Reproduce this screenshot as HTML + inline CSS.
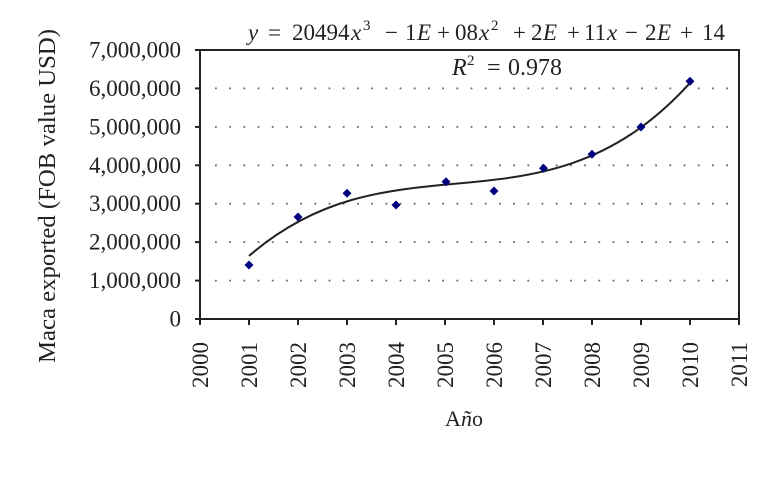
<!DOCTYPE html>
<html><head><meta charset="utf-8"><style>
html,body{margin:0;padding:0;background:#fff;}
svg{display:block;font-family:"Liberation Serif",serif;}
</style></head><body>
<svg width="783" height="489" viewBox="0 0 783 489" xmlns="http://www.w3.org/2000/svg">
<rect width="783" height="489" fill="#fff"/>
<!-- gridlines -->
<g stroke="#6a6a6a" stroke-width="1.8" stroke-dasharray="1.8 12.4" fill="none">
<line x1="215" y1="88.4" x2="737" y2="88.4"/>
<line x1="215" y1="126.9" x2="737" y2="126.9"/>
<line x1="215" y1="165.3" x2="737" y2="165.3"/>
<line x1="215" y1="203.7" x2="737" y2="203.7"/>
<line x1="215" y1="242.1" x2="737" y2="242.1"/>
<line x1="215" y1="280.6" x2="737" y2="280.6"/>
</g>
<!-- axes box -->
<rect x="200" y="50" width="539" height="269" fill="none" stroke="#222" stroke-width="2"/>
<!-- y ticks -->
<g stroke="#222" stroke-width="2">
<line x1="195" y1="50" x2="200" y2="50"/>
<line x1="195" y1="88.4" x2="200" y2="88.4"/>
<line x1="195" y1="126.9" x2="200" y2="126.9"/>
<line x1="195" y1="165.3" x2="200" y2="165.3"/>
<line x1="195" y1="203.7" x2="200" y2="203.7"/>
<line x1="195" y1="242.1" x2="200" y2="242.1"/>
<line x1="195" y1="280.6" x2="200" y2="280.6"/>
<line x1="195" y1="319" x2="200" y2="319"/>
</g>
<!-- x ticks -->
<g stroke="#222" stroke-width="2">
<line x1="200" y1="319" x2="200" y2="325"/>
<line x1="249" y1="319" x2="249" y2="325"/>
<line x1="298" y1="319" x2="298" y2="325"/>
<line x1="347" y1="319" x2="347" y2="325"/>
<line x1="396" y1="319" x2="396" y2="325"/>
<line x1="445" y1="319" x2="445" y2="325"/>
<line x1="494" y1="319" x2="494" y2="325"/>
<line x1="543" y1="319" x2="543" y2="325"/>
<line x1="592" y1="319" x2="592" y2="325"/>
<line x1="641" y1="319" x2="641" y2="325"/>
<line x1="690" y1="319" x2="690" y2="325"/>
<line x1="739" y1="319" x2="739" y2="325"/>
</g>
<!-- y tick labels -->
<g font-size="23" fill="#222" text-anchor="end">
<text x="181" y="57.5">7,000,000</text>
<text x="181" y="95.9">6,000,000</text>
<text x="181" y="134.4">5,000,000</text>
<text x="181" y="172.8">4,000,000</text>
<text x="181" y="211.2">3,000,000</text>
<text x="181" y="249.6">2,000,000</text>
<text x="181" y="288.1">1,000,000</text>
<text x="181" y="326.5">0</text>
</g>
<!-- x tick labels -->
<g font-size="23" fill="#222" text-anchor="end">
<text transform="translate(208,342) rotate(-90)">2000</text>
<text transform="translate(257,342) rotate(-90)">2001</text>
<text transform="translate(306,342) rotate(-90)">2002</text>
<text transform="translate(355,342) rotate(-90)">2003</text>
<text transform="translate(404,342) rotate(-90)">2004</text>
<text transform="translate(453,342) rotate(-90)">2005</text>
<text transform="translate(502,342) rotate(-90)">2006</text>
<text transform="translate(551,342) rotate(-90)">2007</text>
<text transform="translate(600,342) rotate(-90)">2008</text>
<text transform="translate(649,342) rotate(-90)">2009</text>
<text transform="translate(698,342) rotate(-90)">2010</text>
<text transform="translate(747,342) rotate(-90)">2011</text>
</g>
<!-- axis titles -->
<text transform="translate(55,196) rotate(-90)" font-size="24" fill="#222" text-anchor="middle" textLength="334" lengthAdjust="spacingAndGlyphs">Maca exported (FOB value USD)</text>
<text x="464" y="426" font-size="22" fill="#222" text-anchor="middle">A<tspan font-style="italic">ñ</tspan>o</text>
<!-- trendline -->
<path d="M249,255.96 C396,128.4 543,245.07 690,82.94" fill="none" stroke="#222" stroke-width="2"/>
<!-- markers -->
<g fill="#00007f">
<path d="M249,260.5 l4.5,4.5 l-4.5,4.5 l-4.5,-4.5z"/>
<path d="M298,212.5 l4.5,4.5 l-4.5,4.5 l-4.5,-4.5z"/>
<path d="M347,188.8 l4.5,4.5 l-4.5,4.5 l-4.5,-4.5z"/>
<path d="M396,200.5 l4.5,4.5 l-4.5,4.5 l-4.5,-4.5z"/>
<path d="M446,177.2 l4.5,4.5 l-4.5,4.5 l-4.5,-4.5z"/>
<path d="M494,186.5 l4.5,4.5 l-4.5,4.5 l-4.5,-4.5z"/>
<path d="M543.5,163.8 l4.5,4.5 l-4.5,4.5 l-4.5,-4.5z"/>
<path d="M592,149.8 l4.5,4.5 l-4.5,4.5 l-4.5,-4.5z"/>
<path d="M641,122.5 l4.5,4.5 l-4.5,4.5 l-4.5,-4.5z"/>
<path d="M690,76.8 l4.5,4.5 l-4.5,4.5 l-4.5,-4.5z"/>
</g>
<!-- equation -->
<text y="40" font-size="23" fill="#222"><tspan x="248" font-style="italic">y</tspan><tspan x="268">=</tspan><tspan x="292">20494</tspan><tspan x="351" font-style="italic">x</tspan><tspan x="363" y="30" font-size="15">3</tspan><tspan x="385" y="40">−</tspan><tspan x="405">1</tspan><tspan x="417" font-style="italic">E</tspan><tspan x="437">+</tspan><tspan x="455">08</tspan><tspan x="479" font-style="italic">x</tspan><tspan x="491" y="30" font-size="15">2</tspan><tspan x="513" y="40">+</tspan><tspan x="531">2</tspan><tspan x="543" font-style="italic">E</tspan><tspan x="567">+</tspan><tspan x="584">11</tspan><tspan x="607" font-style="italic">x</tspan><tspan x="625">−</tspan><tspan x="645">2</tspan><tspan x="657" font-style="italic">E</tspan><tspan x="680">+</tspan><tspan x="702">14</tspan></text>
<text y="75" font-size="24" fill="#222"><tspan x="452" font-style="italic">R</tspan><tspan x="467" y="65" font-size="15">2</tspan><tspan x="487" y="75">=</tspan><tspan x="508">0.978</tspan></text>
</svg>
</body></html>
